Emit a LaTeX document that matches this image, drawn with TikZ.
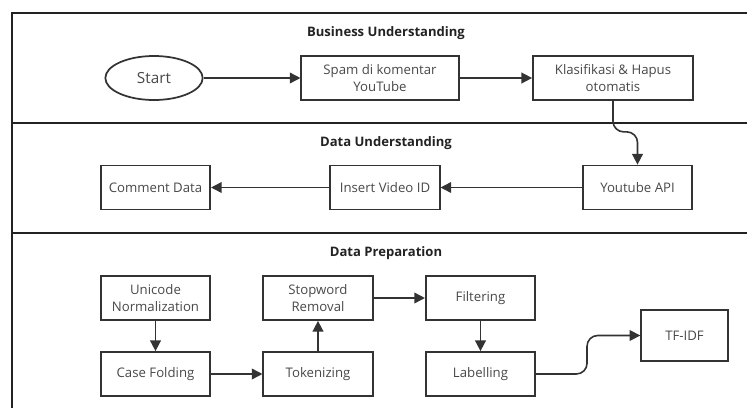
\documentclass[tikz,border=0pt]{standalone}
\usepackage{fontspec}
\setmainfont{Open Sans}
\usepackage{xcolor}
\usepackage{tikz}
\usetikzlibrary{positioning, arrows.meta, calc, shapes.geometric}
\definecolor{linegray}{RGB}{51,51,51}
\definecolor{textgray}{RGB}{72,72,72}
\definecolor{framegray}{RGB}{34,34,34}
\tikzset{stepbox/.style={
    rectangle,
    draw=linegray,
    line width=1.3pt,
    minimum width=82pt,
    minimum height=33pt,
    inner sep=2pt,
    align=center,
    text=textgray,
    font=\fontsize{9.9}{12.5}\selectfont
}}
\tikzset{startnode/.style={
    ellipse,
    draw=linegray,
    line width=1.3pt,
    minimum width=73pt,
    minimum height=33pt,
    inner sep=0pt,
    text=textgray,
    font=\fontsize{11.5}{13}\selectfont
}}
\tikzset{lanetitle/.style={
    font=\bfseries\fontsize{9.8}{11}\selectfont,
    text=framegray
}}
\tikzset{lane/.style={line width=2.2pt, draw=framegray}}

\begin{document}
\begin{tikzpicture}[
    x=0.75pt, y=-0.75pt,
    >={Triangle[length=8pt, width=8pt]},
    flow/.style={->, line width=1.2pt, linegray}
]
    \useasboundingbox (0,0) rectangle (747,408);
    % lanes
    \draw [lane] (747,13) -- (12,13) -- (12,408);
    \draw [lane] (12,123) -- (747,123);
    \draw [lane] (12,233) -- (747,233);
    \node (t1) [lanetitle] at (386,33) {Business Understanding};
    \node (t2) [lanetitle] at (386,143) {Data Understanding};
    \node (t3) [lanetitle] at (386,253) {Data Preparation};
    % first lane
    \node (start) [startnode] at (154,78) {Start};
    \node (spam) [stepbox, minimum width=118pt] at (380,78) {Spam di komentar\\YouTube};
    \node (klas) [stepbox, minimum width=120pt] at (613,78) {Klasifikasi \& Hapus\\otomatis};
    % second lane
    \node (yt) [stepbox] at (637.5,187.5) {Youtube API};
    \node (vid) [stepbox] at (385,187.5) {Insert Video ID};
    \node (com) [stepbox] at (155.5,187.5) {Comment Data};
    % third lane
    \node (uni) [stepbox] at (155.5,298) {Unicode\\Normalization};
    \node (case) [stepbox] at (155.5,374) {Case Folding};
    \node (tok) [stepbox] at (318,374) {Tokenizing};
    \node (stop) [stepbox] at (318,298) {Stopword\\Removal};
    \node (filt) [stepbox] at (480.5,298) {Filtering};
    \node (lab) [stepbox] at (480.5,374) {Labelling};
    \node (tfidf) [stepbox, minimum width=65pt, minimum height=38pt] at (684.5,335.5) {TF-IDF};

    \draw [flow] (start) -- (spam);
    \draw [flow] (spam) -- (klas);
    \draw [flow, rounded corners=8] (klas.south) -- ++(0,31) -| (yt.north);
    \draw [flow] (yt) -- (vid);
    \draw [flow] (vid) -- (com);
    \draw [flow] (uni) -- (case);
    \draw [flow] (case) -- (tok);
    \draw [flow] (tok) -- (stop);
    \draw [flow] (stop) -- (filt);
    \draw [flow] (filt) -- (lab);
    \draw [flow, rounded corners=8] (lab.east) -- ++(51,0) |- (tfidf.west);
\end{tikzpicture}
\end{document}
